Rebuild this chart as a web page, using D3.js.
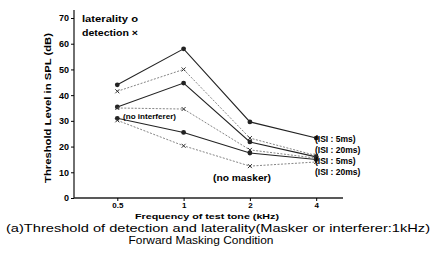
<!DOCTYPE html>
<html>
<head>
<meta charset="utf-8">
<script src="https://cdn.jsdelivr.net/npm/d3@7"></script>
<style>
  body { margin: 0; background: #fff; }
  text { font-family: "Liberation Sans", Arial, sans-serif; }
</style>
</head>
<body>
<div id="chart"></div>
<script>
// frequencies of test tone (kHz)
const freqs = [0.5, 1, 2, 4];
const freqLabels = ["0.5", "1", "2", "4"];
const yTicks = [0, 10, 20, 30, 40, 50, 60, 70];

// laterality (o) and detection (x) thresholds, dB SPL
const latISI5 = [44, 58, 29.6, 23.3];
const detISI5 = [41.5, 50, 23.3, 16.5];
const latISI20 = [35.4, 44.7, 21.8, 16];
const detNoInterferer = [35, 34.6, 18.7, 15.5];
const latNoMasker = [31, 25.5, 17.5, 15];
const detNoMasker = [30.2, 20.3, 12.4, 14];

const seriesNames = ["latISI5", "detISI5", "latISI20", "detNoInterferer", "latNoMasker", "detNoMasker"];
const seriesValues = [latISI5, detISI5, latISI20, detNoInterferer, latNoMasker, detNoMasker];
const seriesKind = ["lat", "det", "lat", "det", "lat", "det"];

const rightLabels = ["(ISI : 5ms)", "(ISI : 20ms)", "(ISI : 5ms)", "(ISI : 20ms)"];

const W = 436, H = 258;
const margin = { top: 18, left: 74, bottom: 60, right: 93 };

const svg = d3.select("#chart").append("svg")
    .attr("width", W)
    .attr("height", H);

const x = d3.scaleLog().base(2)
    .domain([0.25, 8])
    .range([margin.left - 23, margin.left - 23 + 66.3 * 5]);
const y = d3.scaleLinear()
    .domain([0, 70])
    .range([198, 18]);

// axes lines
svg.append("line")
    .attr("x1", margin.left).attr("x2", margin.left)
    .attr("y1", 10).attr("y2", y(0))
    .attr("stroke", "#222").attr("stroke-width", 1.3);
svg.append("line")
    .attr("x1", margin.left).attr("x2", 343)
    .attr("y1", y(0)).attr("y2", y(0))
    .attr("stroke", "#222").attr("stroke-width", 1.3);

// y ticks
const yAxis = d3.axisLeft(y).tickValues(yTicks).tickSize(3).tickSizeOuter(0).tickPadding(2);
const gy = svg.append("g")
    .attr("transform", `translate(${margin.left},0)`)
    .call(yAxis);
gy.select(".domain").remove();
gy.selectAll("text")
    .style("font-size", "9px")
    .style("font-weight", "bold")
    .style("font-family", "Liberation Sans, Arial, sans-serif");

// x ticks
const xAxis = d3.axisBottom(x).tickValues(freqs)
    .tickFormat((d, i) => freqLabels[i]).tickSize(3).tickSizeOuter(0).tickPadding(1);
const gx = svg.append("g")
    .attr("transform", `translate(0,${y(0)})`)
    .call(xAxis);
gx.select(".domain").remove();
gx.selectAll("text")
    .style("font-size", "8px")
    .style("font-weight", "bold")
    .style("font-family", "Liberation Sans, Arial, sans-serif");

// series lines
const line = d3.line()
    .x((d, i) => x(freqs[i]))
    .y(d => y(d));

seriesValues.forEach(function (vals, k) {
    const lat = seriesKind[k] === "lat";
    svg.append("path")
        .datum(vals)
        .attr("class", "series " + seriesNames[k])
        .attr("d", line)
        .attr("fill", "none")
        .attr("stroke", lat ? "#222" : "#777")
        .attr("stroke-width", lat ? 1.1 : 0.9)
        .attr("stroke-dasharray", lat ? null : "2,1.5");

    const g = svg.append("g");
    vals.forEach(function (v, i) {
        const cx = x(freqs[i]), cy = y(v);
        if (lat) {
            g.append("circle")
                .attr("cx", cx).attr("cy", cy).attr("r", 2.4)
                .attr("fill", "#222");
        } else {
            g.append("path")
                .attr("d", `M${cx - 2},${cy - 2}L${cx + 2},${cy + 2}M${cx - 2},${cy + 2}L${cx + 2},${cy - 2}`)
                .attr("stroke", "#333").attr("stroke-width", 1);
        }
    });
});

// stretch a text to a given width
function fit(sel, w) {
    return sel.attr("textLength", w).attr("lengthAdjust", "spacingAndGlyphs");
}

// legend
const legend = svg.append("g").style("font-size", "8.5px").style("font-weight", "bold");
fit(legend.append("text").attr("x", 82).attr("y", 22).text("laterality  o"), 56);
fit(legend.append("text").attr("x", 82).attr("y", 36).text("detection ×"), 56);

// annotations
const ann = svg.append("g").style("font-weight", "bold");
fit(ann.append("text").attr("x", 123).attr("y", 119).style("font-size", "7px")
    .text("(no interferer)"), 53);
fit(ann.append("text").attr("x", 213).attr("y", 181).style("font-size", "8.5px")
    .text("(no masker)"), 58);
rightLabels.forEach(function (t, i) {
    ann.append("text")
        .attr("x", 315)
        .attr("y", 142 + i * 11)
        .style("font-size", "8.5px")
        .text(t);
});

// axis titles
fit(svg.append("text")
    .attr("transform", `translate(51,${y(35)}) rotate(-90)`)
    .attr("text-anchor", "middle")
    .style("font-size", "8.5px")
    .style("font-weight", "bold")
    .text("Threshold Level in SPL (dB)"), 150);

fit(svg.append("text")
    .attr("x", 207).attr("y", 219)
    .attr("text-anchor", "middle")
    .style("font-size", "8px")
    .style("font-weight", "bold")
    .text("Frequency of test tone (kHz)"), 144);

fit(svg.append("text")
    .attr("x", 218).attr("y", 231.5)
    .attr("text-anchor", "middle")
    .style("font-size", "11.5px")
    .text("(a)Threshold of detection and laterality(Masker or interferer:1kHz)"), 424);
fit(svg.append("text")
    .attr("x", 201).attr("y", 244)
    .attr("text-anchor", "middle")
    .style("font-size", "11.5px")
    .text("Forward Masking Condition"), 145);
</script>
</body>
</html>
